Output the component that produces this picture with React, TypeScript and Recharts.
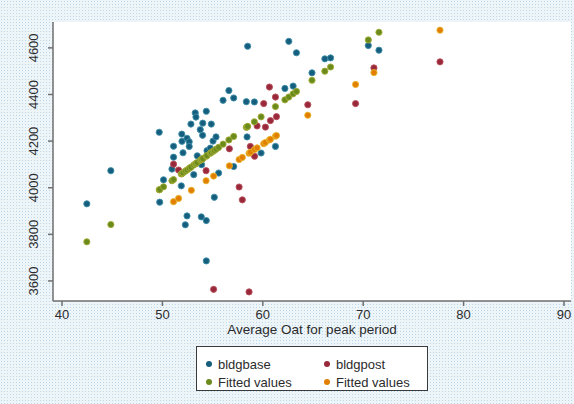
import { ScatterChart, Scatter, XAxis, YAxis, CartesianGrid } from 'recharts'

// bldgbase: observed peak kW vs average OAT
const baseOat = [42.47, 44.86, 49.68, 49.73, 50.11, 50.95, 51.11, 51.11, 51.93, 51.95, 51.88, 52.05, 52.28, 52.45, 52.45, 52.67, 52.67, 52.84, 53.12, 53.27, 53.34, 53.47, 53.77, 53.87, 53.9, 54.02, 54.0, 54.37, 54.37, 54.37, 54.44, 54.77, 54.87, 55.04, 55.17, 55.34, 55.6, 56.04, 56.62, 57.1, 57.1, 58.36, 58.43, 58.49, 59.16, 59.83, 61.26, 62.2, 63.02, 62.59, 63.35, 64.9, 66.18, 66.75, 70.51, 71.57]
const baseKw = [3931, 4073, 4238, 3938, 4034, 4080, 4178, 4131, 4230, 4199, 4008, 4150, 3841, 4212, 3879, 4197, 4177, 4273, 4056, 4321, 4303, 4137, 4249, 3875, 4099, 4277, 4225, 4328, 3859, 3686, 4159, 4170, 4273, 4200, 3959, 4218, 4063, 4375, 4417, 4385, 4091, 4369, 4218, 4607, 4368, 4149, 4177, 4426, 4436, 4628, 4579, 4493, 4553, 4557, 4610, 4590]

// bldgpost
const postOat = [51.11, 51.61, 54.35, 55.1, 56.67, 57.64, 57.96, 58.63, 58.76, 59.18, 59.43, 60.09, 60.26, 60.66, 60.76, 61.26, 61.36, 64.48, 69.24, 71.07, 77.65]
const postKw = [4101, 4076, 4073, 3564, 4167, 4003, 3948, 3553, 4177, 4135, 4265, 4361, 4260, 4432, 4288, 4389, 4305, 4356, 4361, 4514, 4540]

// fitted values (base)
const fitBaseOat = [42.47, 44.86, 49.68, 49.73, 50.11, 50.95, 51.11, 51.88, 51.93, 51.95, 52.05, 52.28, 52.45, 52.67, 52.84, 53.12, 53.27, 53.34, 53.47, 53.77, 53.87, 53.9, 54.0, 54.02, 54.37, 54.44, 54.77, 54.87, 55.04, 55.17, 55.34, 55.6, 56.04, 56.62, 57.1, 58.36, 58.43, 58.49, 59.16, 59.83, 61.26, 62.2, 62.59, 63.02, 63.35, 64.9, 66.18, 66.75, 70.51, 71.57]
const fitBaseKw = [3768, 3842, 3991, 3992, 4004, 4030, 4035, 4059, 4060, 4061, 4064, 4071, 4076, 4083, 4088, 4097, 4102, 4104, 4108, 4117, 4120, 4121, 4124, 4125, 4135, 4138, 4148, 4151, 4156, 4160, 4165, 4173, 4187, 4205, 4220, 4259, 4261, 4263, 4283, 4304, 4348, 4377, 4389, 4403, 4413, 4461, 4500, 4518, 4634, 4667]

// fitted values (post)
const fitPostOat = [51.11, 51.61, 52.88, 54.35, 55.1, 56.67, 57.64, 57.96, 58.63, 58.76, 59.18, 59.43, 60.09, 60.26, 60.66, 60.76, 61.26, 61.36, 64.48, 69.24, 71.07, 77.65]
const fitPostKw = [3940, 3954, 3989, 4030, 4050, 4094, 4121, 4130, 4148, 4152, 4164, 4171, 4189, 4194, 4205, 4208, 4221, 4224, 4311, 4443, 4494, 4676]

const xTicks = [40, 50, 60, 70, 80, 90]
const yTicks = [3600, 3800, 4000, 4200, 4400, 4600]

const COLORS = {
  base: { fill: '#155e7d', stroke: '#3f8fa8' },
  post: { fill: '#98283a', stroke: '#b8525c' },
  fitBase: { fill: '#6b8a1c', stroke: '#a3ac34' },
  fitPost: { fill: '#e27f00', stroke: '#e8b42c' },
}

const FONT = '"Liberation Sans", Arial, sans-serif'
const TEXT = '#2b2b2b'
const AXIS = '#6f6f6f'

const zip = (xs: number[], ys: number[]) => xs.map((x, i) => ({ x, y: ys[i] }))

const makeDot = (fill: string, stroke: string) => (props: any) => (
  <circle cx={props.cx} cy={props.cy} r={3.1} fill={fill} stroke={stroke} strokeWidth={0.9} />
)

function YTick(props: any) {
  const { x, y, payload } = props
  return (
    <text
      x={x}
      y={y}
      transform={`rotate(-90, ${x}, ${y})`}
      textAnchor="middle"
      fontSize={13}
      fontFamily={FONT}
      fill={TEXT}
    >
      {payload.value}
    </text>
  )
}

const legendItems = [
  { label: 'bldgbase', color: COLORS.base.fill, left: 9, top: 9 },
  { label: 'bldgpost', color: COLORS.post.fill, left: 127, top: 9 },
  { label: 'Fitted values', color: COLORS.fitBase.fill, left: 9, top: 27 },
  { label: 'Fitted values', color: COLORS.fitPost.fill, left: 127, top: 27 },
]

export default function App() {
  return (
    <div
      style={{
        position: 'absolute',
        left: 0,
        top: 0,
        width: 574,
        height: 404,
        backgroundColor: '#eef5f9',
        backgroundImage: 'radial-gradient(#bcd6ea 0.7px, transparent 0.9px)',
        backgroundSize: '3px 3px',
        fontFamily: FONT,
      }}
    >
      <ScatterChart width={574} height={404} margin={{ top: 22, right: 3, left: 0, bottom: 0 }}>
        <CartesianGrid fill="#ffffff" horizontal={false} vertical={false} stroke="none" />
        <XAxis
          type="number"
          dataKey="x"
          domain={[39.1, 90.7]}
          ticks={xTicks}
          allowDataOverflow
          height={103}
          stroke={AXIS}
          strokeWidth={1.5}
          tickSize={5}
          tickMargin={4}
          tick={{ fontSize: 13, fill: TEXT, fontFamily: FONT }}
          label={{ value: 'Average Oat for peak period', position: 'insideTop', offset: 23, fontSize: 13.5, fill: TEXT, fontFamily: FONT }}
        />
        <YAxis
          type="number"
          dataKey="y"
          domain={[3514, 4711]}
          ticks={yTicks}
          allowDataOverflow
          width={53}
          stroke={AXIS}
          strokeWidth={1.5}
          tickSize={5}
          tickMargin={10}
          tick={<YTick />}
        />
        <Scatter name="bldgbase" data={zip(baseOat, baseKw)} shape={makeDot(COLORS.base.fill, COLORS.base.stroke)} isAnimationActive={false} />
        <Scatter name="bldgpost" data={zip(postOat, postKw)} shape={makeDot(COLORS.post.fill, COLORS.post.stroke)} isAnimationActive={false} />
        <Scatter name="Fitted values" data={zip(fitBaseOat, fitBaseKw)} shape={makeDot(COLORS.fitBase.fill, COLORS.fitBase.stroke)} isAnimationActive={false} />
        <Scatter name="Fitted values" data={zip(fitPostOat, fitPostKw)} shape={makeDot(COLORS.fitPost.fill, COLORS.fitPost.stroke)} isAnimationActive={false} />
      </ScatterChart>
      <div
        style={{
          position: 'absolute',
          left: 196,
          top: 346,
          width: 230,
          height: 43,
          background: '#fff',
          border: '1px solid #3a3a3a',
        }}
      >
        {legendItems.map((item, i) => (
          <div key={i} style={{ position: 'absolute', left: item.left, top: item.top, display: 'flex', alignItems: 'center', height: 16 }}>
            <span style={{ width: 6, height: 6, borderRadius: 3, background: item.color, display: 'inline-block' }} />
            <span style={{ marginLeft: 6, fontSize: 13, color: TEXT, whiteSpace: 'nowrap' }}>{item.label}</span>
          </div>
        ))}
      </div>
    </div>
  )
}
